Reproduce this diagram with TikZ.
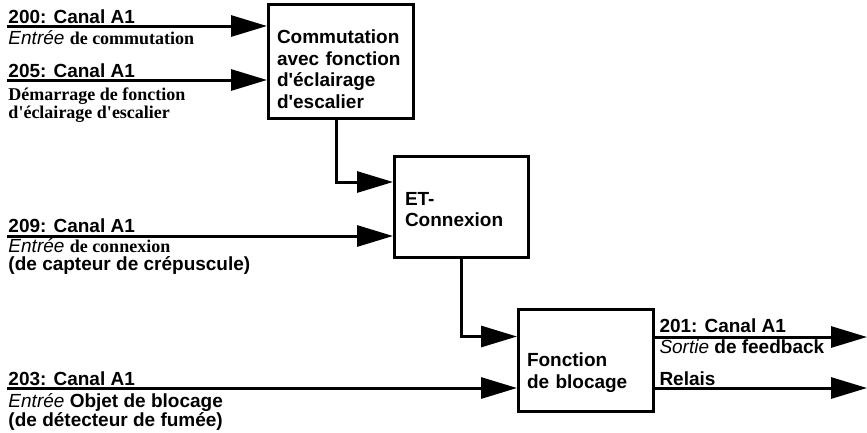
\documentclass[tikz,border=0pt]{standalone}
\usepackage{fontspec}
\setmainfont{Liberation Sans}
\newfontfamily\tnr{Liberation Serif}
\usetikzlibrary{arrows.meta}
\newcommand\q{\textquotesingle}
\begin{document}
\begin{tikzpicture}[x=1pt,y=-1pt,line width=3pt,font=\fontsize{19}{21.5}\selectfont\bfseries]
			\useasboundingbox(0,0)rectangle(867,432);
			\tikzset{b/.style={draw,rectangle,align=left,inner sep=0pt,text width=#1},
				f/.style={-{Triangle[length=36pt,width=21pt]}},
				t/.style={anchor=base west,inner sep=0pt},
				s/.style={font=\fontsize{18}{20}\selectfont\bfseries\tnr}}
			\path(341,61.5)node[b=128pt,minimum width=145pt,minimum height=114pt](C){\rule{0pt}{29pt}Commutation\\avec fonction\\d\q éclairage\\d\q escalier}
			(461.5,207)node[b=113pt,minimum width=134pt,minimum height=101pt](ET){\rule{0pt}{18pt}ET-\\Connexion}
			(586,360.5)node[b=118pt,minimum width=135pt,minimum height=102pt](B){\rule{0pt}{38pt}Fonction\\de blocage};
			\path(7,26)coordinate(i200)(7,80)coordinate(i205)(7,236)coordinate(i209)(7,388)coordinate(i203)
			(867,337)coordinate(o201)(867,388)coordinate(oR);
			\path(C.south)++(-5,0)coordinate(c1);
			\path(ET.west)++(0,-25)coordinate(e1);
			\path(B.west)++(0,-24)coordinate(e2);
			\foreach \x/\y in {i200/C,i205/C,i209/ET,i203/B}
			\draw[f](\x)--(\x-|\y.west);
			\draw[f](c1)|-(e1);
			\draw[f](ET.south)|-(e2);
			\foreach \y in {o201,oR}
			\draw[f](B.east|-\y)--(\y);
			%%Nhãn đầu vào
			\path(7,23)node[t](l200){200: Canal A1}(7,44)node[t](m200){{\mdseries\itshape Entrée} {\tnr\fontsize{18}{20}\selectfont de commutation}};
			\path(7,77)node[t](l205){205: Canal A1}(7,100)node[t,s](m205){Démarrage de fonction}(7,118)node[t,s](n205){d\q éclairage d\q escalier};
			\path(7,232)node[t](l209){209: Canal A1}(7,252)node[t](m209){{\mdseries\itshape Entrée} {\tnr\fontsize{18}{20}\selectfont de connexion}}(7,270)node[t](n209){(de capteur de crépuscule)};
			\path(7,385)node[t](l203){203: Canal A1}(7,407)node[t](m203){{\mdseries\itshape Entrée} Objet de blocage}(7,426.5)node[t](n203){(de détecteur de fumée)};
			%%Nhãn đầu ra
			\path(658,332)node[t](l201){201: Canal A1}(658,353)node[t](m201){{\mdseries\itshape Sortie} de feedback}(658,385)node[t](lR){Relais};
		\end{tikzpicture}
\end{document}
